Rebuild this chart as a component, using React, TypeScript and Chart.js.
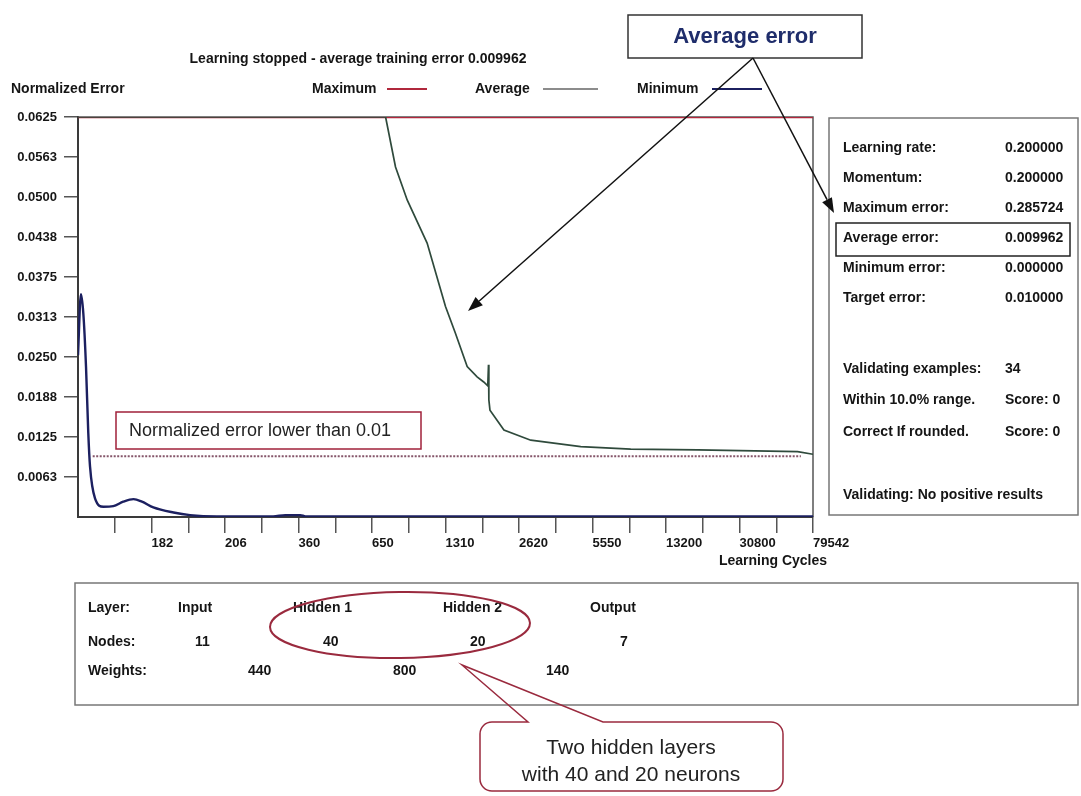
import React, { useEffect, useRef } from 'react';
import { Chart, registerables } from 'chart.js';

Chart.register(...registerables);

// ---------- data ----------
const xTickLabels = ['', '', '182', '', '206', '', '360', '', '650', '', '1310', '', '2620', '', '5550', '', '13200', '', '30800', '', '79542'];
const yTickLabels = ['', '0.0063', '0.0125', '0.0188', '0.0250', '0.0313', '0.0375', '0.0438', '0.0500', '0.0563', '0.0625'];
const yTickValues = [0, 0.00625, 0.0125, 0.01875, 0.025, 0.03125, 0.0375, 0.04375, 0.05, 0.05625, 0.0625];

const avgCycles = [0, 8.37, 8.64, 8.96, 9.5, 10.0, 10.27, 10.59, 10.86, 11.04, 11.15, 11.17, 11.18, 11.21, 11.59, 12.32, 13.68, 15.04, 16.86, 19.58, 20];
const avgError = [0.0625, 0.0625, 0.0547, 0.0495, 0.0428, 0.0329, 0.0287, 0.0235, 0.0219, 0.0211, 0.0205, 0.0238, 0.0183, 0.0167, 0.0136, 0.012, 0.011, 0.0106, 0.0105, 0.0102, 0.0098];

const minCycles = [0, 0.08, 0.145, 0.218, 0.28, 0.327, 0.463, 0.69, 0.96, 1.23, 1.51, 1.74, 2.05, 2.6, 3.05, 3.78, 5.31, 5.64, 6.05, 6.19, 8, 12, 16, 20];
const minError = [0.0253, 0.0348, 0.0318, 0.0235, 0.0131, 0.0079, 0.0029, 0.0016, 0.0017, 0.0024, 0.0028, 0.0024, 0.0015, 0.0007, 0.0003, 0.0001, 0.0001, 0.0003, 0.0003, 0.0001, 0.0001, 0.0001, 0.0001, 0.0001];

const maxCycles = [0, 20];
const maxError = [0.0625, 0.0625];

const targetCycles = [0.4, 19.67];
const targetError = [0.0095, 0.0095];

const statLabels = ['Learning rate:', 'Momentum:', 'Maximum error:', 'Average error:', 'Minimum error:', 'Target error:'];
const statValues = ['0.200000', '0.200000', '0.285724', '0.009962', '0.000000', '0.010000'];
const validLabels = ['Validating examples:', 'Within 10.0% range.', 'Correct If rounded.'];
const validValues = ['34', 'Score: 0', 'Score: 0'];

const layerNames = ['Input', 'Hidden 1', 'Hidden 2', 'Output'];
const layerNodes = ['11', '40', '20', '7'];
const layerWeights = ['440', '800', '140'];

// ---------- styling ----------
const FAM = '"Liberation Sans", Arial, Helvetica, sans-serif';
const bold = (s: number) => `bold ${s}px ${FAM}`;
const plain = (s: number) => `${s}px ${FAM}`;
const TXT = '#151515';
const RED = '#b0283c';
const NAVY = '#1c2060';
const AVG = '#2f4a3c';
const CALLOUT = '#9a2a3e';

const pts = (xs: number[], ys: number[]) => xs.map((x, i) => ({ x, y: ys[i] }));

function text(ctx: CanvasRenderingContext2D, s: string, x: number, y: number, font: string, align: CanvasTextAlign = 'left', color = TXT) {
  ctx.font = font;
  ctx.fillStyle = color;
  ctx.textAlign = align;
  ctx.textBaseline = 'middle';
  ctx.fillText(s, x, y);
}

function arrow(ctx: CanvasRenderingContext2D, x1: number, y1: number, x2: number, y2: number) {
  const ang = Math.atan2(y2 - y1, x2 - x1);
  const L = 15, W = 5.5;
  const bx = x2 - L * Math.cos(ang), by = y2 - L * Math.sin(ang);
  ctx.strokeStyle = '#111';
  ctx.lineWidth = 1.5;
  ctx.beginPath();
  ctx.moveTo(x1, y1);
  ctx.lineTo(bx, by);
  ctx.stroke();
  ctx.fillStyle = '#111';
  ctx.beginPath();
  ctx.moveTo(x2, y2);
  ctx.lineTo(bx + W * Math.sin(ang), by - W * Math.cos(ang));
  ctx.lineTo(bx - W * Math.sin(ang), by + W * Math.cos(ang));
  ctx.closePath();
  ctx.fill();
}

const overlay = {
  id: 'overlay',
  beforeDraw(chart: any) {
    const c = chart.ctx;
    c.save();
    c.fillStyle = '#fff';
    c.fillRect(0, 0, chart.width, chart.height);
    c.restore();
  },
  beforeDatasetsDraw(chart: any) {
    const { ctx, chartArea: a } = chart;
    ctx.save();
    ctx.strokeStyle = '#555';
    ctx.lineWidth = 1.5;
    ctx.beginPath();
    ctx.moveTo(a.left, a.top);
    ctx.lineTo(a.right, a.top);
    ctx.lineTo(a.right, a.bottom);
    ctx.stroke();
    ctx.restore();
  },
  afterDraw(chart: any) {
    const ctx: CanvasRenderingContext2D = chart.ctx;
    ctx.save();

    // title & axis title
    text(ctx, 'Learning stopped - average training error 0.009962', 358, 59, bold(14), 'center');
    text(ctx, 'Normalized Error', 11, 89, bold(14));
    text(ctx, 'Learning Cycles', 773, 561, bold(14), 'center');

    // legend
    text(ctx, 'Maximum', 312, 89, bold(14));
    text(ctx, 'Average', 475, 89, bold(14));
    text(ctx, 'Minimum', 637, 89, bold(14));
    const leg = (x1: number, x2: number, col: string, w: number) => {
      ctx.strokeStyle = col; ctx.lineWidth = w;
      ctx.beginPath(); ctx.moveTo(x1, 89); ctx.lineTo(x2, 89); ctx.stroke();
    };
    leg(387, 427, RED, 2);
    leg(543, 598, '#666', 1.5);
    leg(712, 762, NAVY, 2);

    // target annotation
    ctx.fillStyle = '#fff';
    ctx.fillRect(116, 412, 305, 37);
    ctx.strokeStyle = '#a0203a';
    ctx.lineWidth = 1.5;
    ctx.strokeRect(116, 412, 305, 37);
    text(ctx, 'Normalized error lower than 0.01', 129, 431, plain(18), 'left', '#222');

    // right stats panel
    ctx.strokeStyle = '#777';
    ctx.lineWidth = 1.5;
    ctx.strokeRect(829, 118, 249, 397);
    statLabels.forEach((l, i) => {
      const y = 148 + i * 30;
      text(ctx, l, 843, y, bold(14));
      text(ctx, statValues[i], 1005, y, bold(14));
    });
    ctx.strokeStyle = '#222';
    ctx.lineWidth = 1.5;
    ctx.strokeRect(836, 223, 234, 33);
    const vy = [369, 400, 432];
    validLabels.forEach((l, i) => {
      text(ctx, l, 843, vy[i], bold(14));
      text(ctx, validValues[i], 1005, vy[i], bold(14));
    });
    text(ctx, 'Validating: No positive results', 843, 495, bold(14));

    // bottom layer panel
    ctx.strokeStyle = '#777';
    ctx.lineWidth = 1.5;
    ctx.strokeRect(75, 583, 1003, 122);
    text(ctx, 'Layer:', 88, 608, bold(14));
    text(ctx, 'Nodes:', 88, 642, bold(14));
    text(ctx, 'Weights:', 88, 671, bold(14));
    const nameX = [178, 293, 443, 590];
    const nodeX = [195, 323, 470, 620];
    const wX = [248, 393, 546];
    layerNames.forEach((n, i) => text(ctx, n, nameX[i], 608, bold(14)));
    layerNodes.forEach((n, i) => text(ctx, n, nodeX[i], 642, bold(14)));
    layerWeights.forEach((n, i) => text(ctx, n, wX[i], 671, bold(14)));

    // ellipse around hidden layers
    ctx.strokeStyle = CALLOUT;
    ctx.lineWidth = 2;
    ctx.beginPath();
    ctx.ellipse(400, 625, 130, 33, -0.015, 0, Math.PI * 2);
    ctx.stroke();

    // callout bubble
    ctx.strokeStyle = CALLOUT;
    ctx.lineWidth = 1.5;
    ctx.beginPath();
    const L = 480, R = 783, T = 722, B = 791, r = 12;
    ctx.moveTo(L + r, T);
    ctx.lineTo(528, T);
    ctx.lineTo(462, 665);
    ctx.lineTo(603, T);
    ctx.lineTo(R - r, T);
    ctx.arcTo(R, T, R, T + r, r);
    ctx.lineTo(R, B - r);
    ctx.arcTo(R, B, R - r, B, r);
    ctx.lineTo(L + r, B);
    ctx.arcTo(L, B, L, B - r, r);
    ctx.lineTo(L, T + r);
    ctx.arcTo(L, T, L + r, T, r);
    ctx.closePath();
    ctx.stroke();
    text(ctx, 'Two hidden layers', 631, 748, plain(21), 'center', '#222');
    text(ctx, 'with 40 and 20 neurons', 631, 775, plain(21), 'center', '#222');

    // "Average error" callout with arrows
    ctx.fillStyle = '#fff';
    ctx.fillRect(628, 15, 234, 43);
    ctx.strokeStyle = '#333';
    ctx.lineWidth = 1.5;
    ctx.strokeRect(628, 15, 234, 43);
    text(ctx, 'Average error', 745, 37, bold(22), 'center', '#1f2d6b');
    arrow(ctx, 753, 58, 468, 311);
    arrow(ctx, 753, 58, 834, 213);

    ctx.restore();
  },
};

export default function App() {
  const ref = useRef<HTMLCanvasElement>(null);

  useEffect(() => {
    const tickGrid = (len: number) => ({
      drawOnChartArea: false,
      drawTicks: true,
      tickLength: len,
      lineWidth: 1.5,
      color: (c: any) => (c.index === 0 ? 'rgba(0,0,0,0)' : '#555'),
    });
    const chart = new Chart(ref.current as HTMLCanvasElement, {
      type: 'line',
      data: {
        datasets: [
          { label: 'Minimum', data: pts(minCycles, minError), borderColor: NAVY, borderWidth: 2.4, pointRadius: 0, cubicInterpolationMode: 'monotone', order: 0 },
          { label: 'Average', data: pts(avgCycles, avgError), borderColor: AVG, borderWidth: 1.7, pointRadius: 0, tension: 0, order: 1 },
          { label: 'Maximum', data: pts(maxCycles, maxError), borderColor: RED, borderWidth: 2.4, pointRadius: 0, order: 2 },
          { label: 'Target', data: pts(targetCycles, targetError), borderColor: '#85566a', borderWidth: 2, borderDash: [2, 1.5], pointRadius: 0, order: 3 },
        ],
      },
      options: {
        animation: false,
        responsive: false,
        devicePixelRatio: 1,
        events: [],
        layout: { padding: { left: 0, top: 117, right: 268, bottom: 0 } },
        plugins: { legend: { display: false }, tooltip: { enabled: false } },
        scales: {
          x: {
            type: 'linear',
            min: 0,
            max: 20,
            afterBuildTicks: (axis: any) => {
              axis.ticks = xTickLabels.map((_, i) => ({ value: i }));
            },
            afterFit: (s: any) => { s.height = 279; },
            ticks: {
              autoSkip: false,
              maxRotation: 0,
              minRotation: 0,
              align: 'start',
              padding: 3,
              color: TXT,
              font: { family: FAM, size: 13, weight: 'bold' },
              callback: (v: any) => xTickLabels[Math.round(Number(v))] ?? '',
            },
            grid: tickGrid(16),
            border: { display: true, color: '#3a3a3a', width: 2 },
          },
          y: {
            type: 'linear',
            min: 0,
            max: 0.0625,
            afterBuildTicks: (axis: any) => {
              axis.ticks = yTickValues.map((v) => ({ value: v }));
            },
            afterFit: (s: any) => { s.width = 78; },
            ticks: {
              autoSkip: false,
              padding: 7,
              color: TXT,
              font: { family: FAM, size: 13, weight: 'bold' },
              callback: (v: any) => yTickLabels[Math.round(Number(v) / 0.00625)] ?? '',
            },
            grid: tickGrid(14),
            border: { display: true, color: '#3a3a3a', width: 2 },
          },
        },
      } as any,
      plugins: [overlay],
    });
    return () => chart.destroy();
  }, []);

  return (
    <div style={{ position: 'absolute', left: 0, top: 0, width: 1081, height: 796, background: '#fff' }}>
      <canvas ref={ref} width={1081} height={796} style={{ display: 'block', width: 1081, height: 796 }} />
    </div>
  );
}
